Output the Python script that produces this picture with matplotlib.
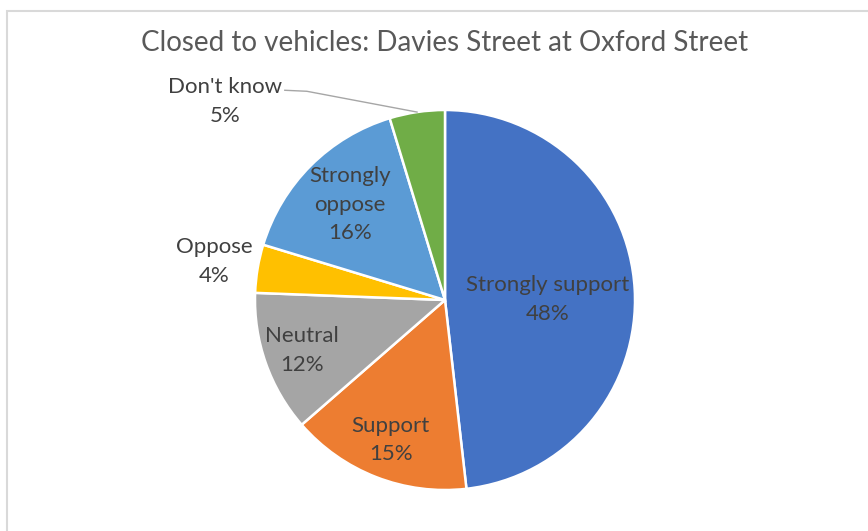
import matplotlib.pyplot as plt
import numpy as np
from matplotlib.patches import Rectangle

plt.rcParams['font.family'] = ['Lato', 'DejaVu Sans']

# 数据
categories = ['Strongly support', 'Support', 'Neutral', 'Oppose', 'Strongly oppose', "Don't know"]
label_text = ['Strongly support', 'Support', 'Neutral', 'Oppose', 'Strongly\noppose', "Don't know"]
shares = [48.2, 15.4, 12.0, 4.1, 15.6, 4.7]
colors = ['#4472C4', '#ED7D31', '#A5A5A5', '#FFC000', '#5B9BD5', '#70AD47']
title = 'Closed to vehicles: Davies Street at Oxford Street'

# 标签位置（半径比例），部分标签角度单独处理
label_r = [0.54, 0.79, 0.80, 1.23, 0.71, 1.56]
label_ang_override = {0: 0.5, 5: 138}

W, H = 868, 531
fig = plt.figure(figsize=(W / 100, H / 100), dpi=100)
ax = fig.add_axes([0, 0, 1, 1])

cx, cy, R = 445, H - 300, 190
wedges, _ = ax.pie(shares, colors=colors, startangle=90, counterclock=False,
                   center=(cx, cy), radius=R,
                   wedgeprops=dict(edgecolor='white', linewidth=1.8))
ax.set_xlim(0, W)
ax.set_ylim(0, H)
ax.set_aspect('equal')
ax.axis('off')

# 外框
fig.patches.append(Rectangle((7 / W, -0.01), 1.1, (H - 11) / H + 0.01,
                             transform=fig.transFigure, fill=False,
                             edgecolor='#D9D9D9', linewidth=1.5))

# 标题
fig.text(445 / W, 1 - 43 / H, title, ha='center', va='center',
         fontsize=20, color='#595959')

# 数据标签
texts = []
for i, w in enumerate(wedges):
    mid = (w.theta1 + w.theta2) / 2
    ang = np.deg2rad(label_ang_override.get(i, mid))
    x = cx + label_r[i] * R * np.cos(ang)
    y = cy + label_r[i] * R * np.sin(ang)
    t = ax.text(x, y, f'{label_text[i]}\n{round(shares[i])}%', ha='center', va='center',
                fontsize=16, color='#404040', linespacing=1.55)
    texts.append(t)

# Don't know 引导线
fig.canvas.draw()
inv = ax.transData.inverted()
bb = texts[5].get_window_extent()
x0, y0 = inv.transform((bb.x1 + 3, bb.y1 - 13))
w = wedges[5]
mid = np.deg2rad((w.theta1 + w.theta2) / 2)
x2, y2 = cx + R * np.cos(mid), cy + R * np.sin(mid)
ax.plot([x0, x0 + 22, x2], [y0, y0 - 1, y2], color='#A6A6A6', linewidth=1)

plt.savefig('out.png', dpi=100)
